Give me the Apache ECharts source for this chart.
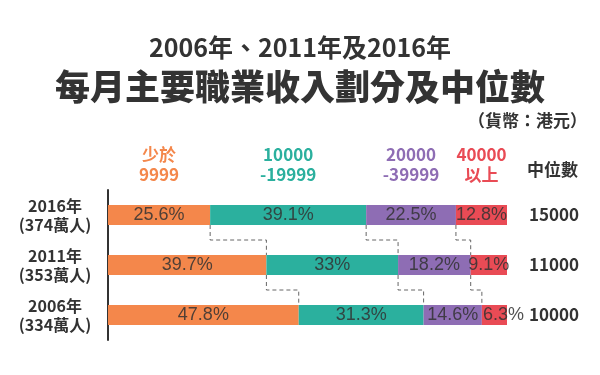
<!DOCTYPE html>
<html><head><meta charset="utf-8">
<script src="https://cdn.jsdelivr.net/npm/echarts@6/dist/echarts.min.js"></script>
<style>html,body{margin:0;padding:0;background:#fff}#c{width:600px;height:375px}</style>
</head><body><div id="c"></div>
<script>
var years = ['2016年', '2011年', '2006年'];
var people = ['(374萬人)', '(353萬人)', '(334萬人)'];
var medians = ['15000', '11000', '10000'];
var bandNames = ['少於\n9999', '10000\n-19999', '20000\n-39999', '40000\n以上'];
var below10k = [25.6, 39.7, 47.8];
var from10k = [39.1, 33, 31.3];
var from20k = [22.5, 18.2, 14.6];
var above40k = [12.8, 9.1, 6.3];
var titleLine1 = '2006年、2011年及2016年';
var titleLine2 = '每月主要職業收入劃分及中位數';
var unitNote = '（貨幣：港元）';
var medianHeader = '中位數';

var colors = ['#F4874B', '#2BB09E', '#8E6DB4', '#E94B55'];
var seriesData = [below10k, from10k, from20k, above40k];
var FONT = '"Noto Sans CJK TC", "Noto Sans", sans-serif';
var BAR_H = 20;

var chart = echarts.init(document.getElementById('c'));

var barSeries = seriesData.map(function (arr, i) {
  return {
    type: 'bar', stack: 'total', barWidth: BAR_H, z: 3,
    itemStyle: { color: colors[i] },
    label: {
      show: true, position: 'inside', color: 'rgba(50,50,50,0.85)',
      fontFamily: 'Liberation Sans, Arial, sans-serif', fontSize: 18,
      formatter: function (p) { return p.value + '%'; }
    },
    data: arr.map(function (v, k) {
      var d = { value: v };
      if (i === 3 && k === 2) d.label = { offset: [9, 0] };
      return d;
    })
  };
});

var cum = years.map(function (y, k) {
  var s = 0, out = [];
  for (var i = 0; i < 3; i++) { s += seriesData[i][k]; out.push(Math.round(s * 10) / 10); }
  return out;
});

var connectorData = [];
for (var k = 0; k < years.length - 1; k++) {
  for (var b = 0; b < 3; b++) connectorData.push([cum[k][b], k, cum[k + 1][b], k + 1]);
}

var connectors = {
  type: 'custom', z: 2, silent: true,
  renderItem: function (params, api) {
    var p1 = api.coord([api.value(0), api.value(1)]);
    var p2 = api.coord([api.value(2), api.value(3)]);
    var h = BAR_H / 2;
    var mid = (p1[1] + p2[1]) / 2;
    return {
      type: 'polyline',
      shape: { points: [[p1[0], p1[1] + h], [p1[0], mid], [p2[0], mid], [p2[0], p2[1] - h]] },
      style: { stroke: '#666', lineWidth: 1, lineDash: [4, 3], fill: null }
    };
  },
  data: connectorData
};

var headerData = bandNames.map(function (n, i) {
  var start = i === 0 ? 0 : cum[0][i - 1];
  var end = i === 3 ? 100 : cum[0][i];
  return [(start + end) / 2, 0, i];
});
var headers = {
  type: 'custom', z: 4, silent: true,
  renderItem: function (params, api) {
    var p = api.coord([api.value(0), api.value(1)]);
    var i = api.value(2);
    return {
      type: 'text',
      style: {
        x: p[0], y: p[1] - 50, text: bandNames[i], align: 'center', verticalAlign: 'middle',
        fill: colors[i], font: 'bold 17px ' + FONT, lineHeight: 20
      }
    };
  },
  data: headerData
};

chart.setOption({
  backgroundColor: '#fff',
  animation: false,
  title: [
    { text: titleLine1, left: 'center', top: 30, textStyle: { fontFamily: FONT, fontWeight: 'bold', fontSize: 25, color: '#333' } },
    { text: titleLine2, left: 'center', top: 64, textStyle: { fontFamily: FONT, fontWeight: 900, fontSize: 35, color: '#333' } },
    { text: unitNote, right: 8, top: 107, textStyle: { fontFamily: FONT, fontWeight: 'bold', fontSize: 17, color: '#333' } },
    { text: medianHeader, left: 522, top: 156, textStyle: { fontFamily: FONT, fontWeight: 'bold', fontSize: 17, color: '#333' } }
  ],
  grid: { left: 108, right: 93, top: 190, height: 150 },
  xAxis: { type: 'value', min: 0, max: 100, show: false },
  yAxis: [
    {
      type: 'category', data: years, inverse: true,
      axisLine: { show: true, lineStyle: { color: '#333', width: 2 } },
      axisTick: { show: false },
      axisLabel: {
        margin: 53, align: 'center',
        formatter: function (v, idx) { return '{a|' + v + '}\n{a|' + people[idx] + '}'; },
        rich: { a: { fontFamily: FONT, fontWeight: 'bold', fontSize: 16, color: '#333', lineHeight: 19, align: 'center' } }
      }
    },
    {
      type: 'category', data: medians, inverse: true, position: 'right',
      axisLine: { show: false }, axisTick: { show: false },
      axisLabel: { margin: 22, align: 'left', fontFamily: FONT, fontWeight: 'bold', fontSize: 17, color: '#333' }
    }
  ],
  series: barSeries.concat([connectors, headers])
});
</script></body></html>
